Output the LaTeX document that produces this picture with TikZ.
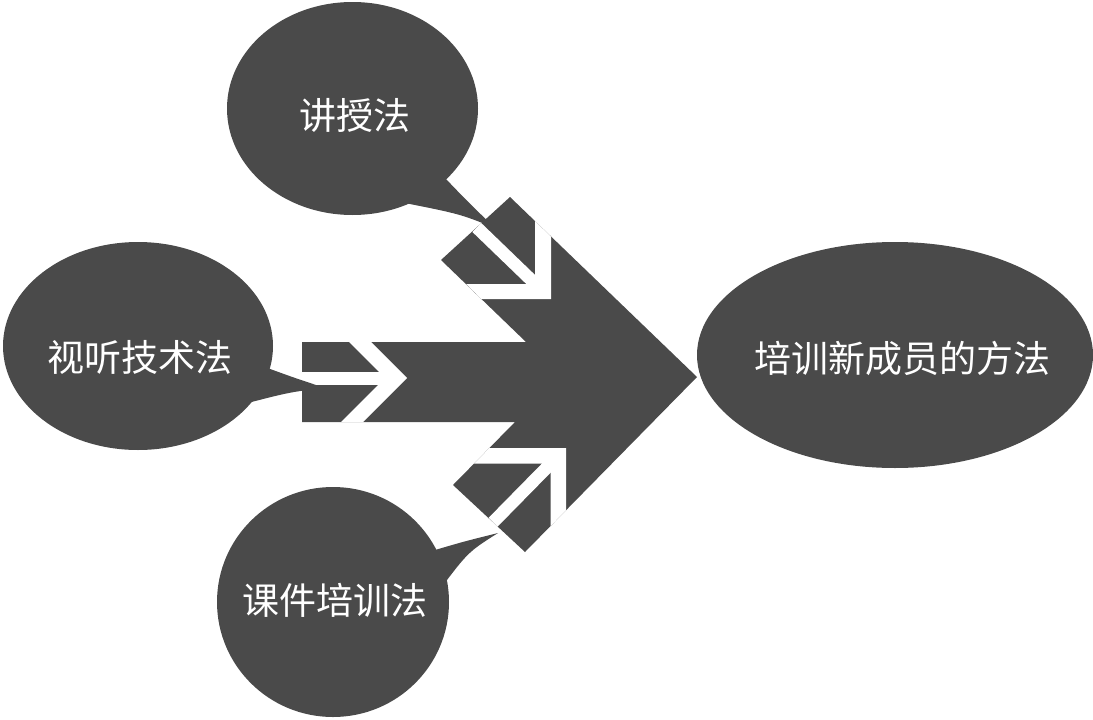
\documentclass[tikz,border=0pt]{standalone}
\usepackage{fontspec}
\newfontfamily\cjk{Noto Sans CJK SC}
\usetikzlibrary{shapes.geometric}
\definecolor{darkfill}{HTML}{4A4A4A}
\begin{document}
\begin{tikzpicture}[x=1pt,y=-1pt,
  bubble/.style={ellipse, fill=darkfill, draw=none, inner sep=0pt, outer sep=0pt},
  tail/.style={fill=darkfill, draw=none},
  lbl/.style={text=white, font=\cjk\fontsize{37}{42}\selectfont, inner sep=0pt},
  cut/.style={fill=white, draw=none}]
\useasboundingbox[fill=white] (0,0) rectangle (1093,720);

% converging arrow body
\fill[darkfill] (510,197) -- (697,377) -- (525,552) -- (453,485) -- (515,422)
  -- (302,422) -- (302,342) -- (526,342) -- (441,260) -- cycle;

% white arrows: middle
\fill[cut] (371,342) -- (407,378) -- (363,422) -- (341,422) -- (385,378) -- (349,342) -- cycle;
\fill[cut] (302,372) rectangle (392,385);
% white arrows: upper
\fill[cut] (551,236.5) -- (551,299) -- (481.5,299) -- (466,284) -- (535,284) -- (535,221) -- cycle;
\fill[cut] (481.2,223) -- (472.4,232) -- (537.2,294.5) -- (546,285.5) -- cycle;
% white arrows: lower
\fill[cut] (566,510.3) -- (566,448) -- (489.4,448) -- (474,463.7) -- (550.6,463.7) -- (550.6,526) -- cycle;
\fill[cut] (488.6,517.8) -- (497.6,526.6) -- (560.7,462.4) -- (551.7,453.6) -- cycle;

% speech bubbles
\node[bubble, minimum width=251pt, minimum height=213pt] (jiangshou) at (352.5,108.5) {};
\fill[tail] (445,178) .. controls (468,202) .. (495,228) .. controls (460,214) .. (405,203) -- cycle;

\node[bubble, minimum width=270pt, minimum height=208pt] (shiting) at (138,346) {};
\fill[tail] (262,366) .. controls (292,377) .. (325,388) .. controls (290,392) .. (240,405) -- cycle;

\node[bubble, minimum width=232pt, minimum height=230pt] (kejian) at (333,602) {};
\fill[tail] (425,553) .. controls (462,542) .. (498,533) .. controls (468,552) .. (438,592) -- cycle;

\node[bubble, minimum width=396pt, minimum height=226pt] (fangfa) at (895,355) {};

% labels
\node[lbl] (t1) at (355,115) {讲授法};
\node[lbl] (t2) at (140,357) {视听技术法};
\node[lbl] (t3) at (335,600) {课件培训法};
\node[lbl] (t4) at (902,358) {培训新成员的方法};
\end{tikzpicture}
\end{document}
